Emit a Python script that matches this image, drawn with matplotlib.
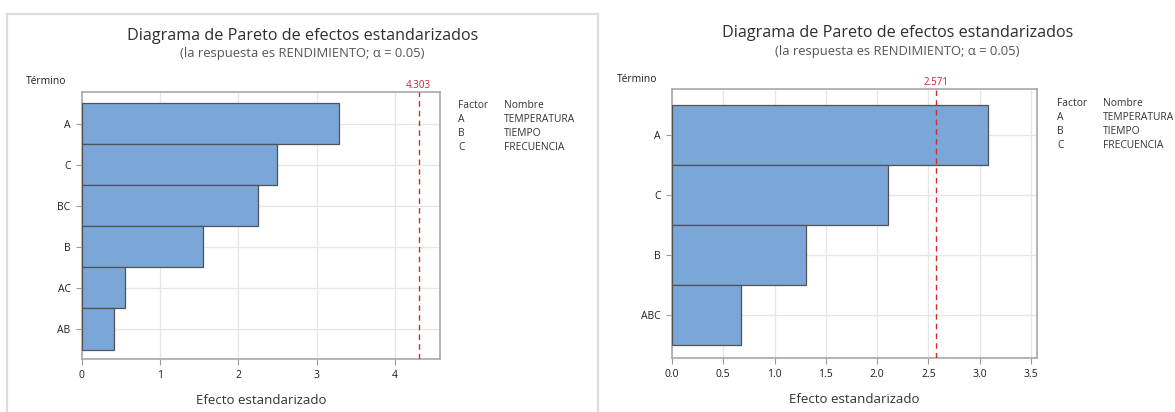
import matplotlib
matplotlib.use('Agg')
import matplotlib.pyplot as plt
from matplotlib.lines import Line2D
import numpy as np

# Datos
terminos_1 = ['A', 'C', 'BC', 'B', 'AC', 'AB']
efectos_1 = [3.28, 2.50, 2.25, 1.544, 0.547, 0.417]
critico_1 = 4.303

terminos_2 = ['A', 'C', 'B', 'ABC']
efectos_2 = [3.078, 2.11, 1.302, 0.668]
critico_2 = 2.571

factores = ['A', 'B', 'C']
nombres = ['TEMPERATURA', 'TIEMPO', 'FRECUENCIA']

plt.rcParams['font.family'] = ['Open Sans', 'DejaVu Sans']

W, H = 1175, 412
fig = plt.figure(figsize=(W / 100, H / 100), dpi=100)
fig.patch.set_facecolor('white')


def fx(px):
    return px / W


def fy(py):
    return 1 - py / H


def pareto(rect, terminos, efectos, critico, xmax, xticks, fmt):
    ax = fig.add_axes(rect)
    n = len(terminos)
    y = np.arange(n)
    ax.barh(y, efectos, height=1.0, color='#7BA6D8', edgecolor='#525252',
            linewidth=0.9, zorder=3)
    ax.axvline(critico, color='#D42A2A', linestyle=(0, (4, 3)), linewidth=1.0, zorder=4)
    ax.set_xlim(0, xmax)
    ax.set_ylim(n - 0.5 + 0.23, -0.5 - 0.27)
    ax.set_yticks(y)
    ax.set_yticklabels(terminos)
    ax.set_xticks(xticks)
    ax.set_xticklabels([fmt.format(v) for v in xticks])
    ax.grid(True, color='#E6E6E6', linewidth=0.9, zorder=0)
    ax.set_axisbelow(True)
    for s in ax.spines.values():
        s.set_color('#A8A8A8')
        s.set_linewidth(1.2)
    ax.tick_params(axis='both', direction='out', length=4, width=0.8,
                   color='#9A9A9A', labelsize=7.5, labelcolor='#1E1E1E', pad=4)
    ax.set_xlabel('Efecto estandarizado', fontsize=9.5, color='#333333', labelpad=9)
    ax.text(critico, 1.005, f'{critico:.3f}', transform=ax.get_xaxis_transform(),
            ha='center', va='bottom', fontsize=7, color='#C0282D')
    return ax


# Panel izquierdo
pareto([fx(81.7), fy(359), fx(440 - 81.7), (359 - 92) / H],
       terminos_1, efectos_1, critico_1, 4.576, [0, 1, 2, 3, 4], '{:.0f}')
# Panel derecho
pareto([fx(672), fy(358.3), fx(1037 - 672), (358.3 - 89.3) / H],
       terminos_2, efectos_2, critico_2, 3.558,
       [0.0, 0.5, 1.0, 1.5, 2.0, 2.5, 3.0, 3.5], '{:.1f}')

# Títulos y textos
for cx, ty, sy, tx, tty, lx, ly in [(302.5, 36, 54, 46.5, 82, 458, 105),
                                     (897.5, 33, 52, 637, 80, 1057, 103)]:
    fig.text(fx(cx), fy(ty), 'Diagrama de Pareto de efectos estandarizados',
             ha='center', va='center', fontsize=11.6, color='#2E2E2E')
    fig.text(fx(cx), fy(sy), '(la respuesta es RENDIMIENTO; α = 0.05)',
             ha='center', va='center', fontsize=9.4, color='#555555')
    fig.text(fx(tx), fy(tty), 'Término', ha='center', va='center',
             fontsize=7.4, color='#1E1E1E')
    fig.text(fx(lx), fy(ly), 'Factor', ha='left', va='center', fontsize=7.4, color='#333333')
    fig.text(fx(lx + 46), fy(ly), 'Nombre', ha='left', va='center', fontsize=7.4, color='#333333')
    for i, (f, nme) in enumerate(zip(factores, nombres)):
        yy = ly + 14.3 * (i + 1)
        fig.text(fx(lx), fy(yy), f, ha='left', va='center', fontsize=7.4, color='#333333')
        fig.text(fx(lx + 46), fy(yy), nme, ha='left', va='center', fontsize=7.4, color='#333333')

# Marco gris claro del panel izquierdo
borde = dict(color='#DCDCDC', linewidth=1.6, transform=fig.transFigure)
fig.add_artist(Line2D([fx(7), fx(598)], [fy(14), fy(14)], **borde))
fig.add_artist(Line2D([fx(7), fx(7)], [fy(14), 0], **borde))
fig.add_artist(Line2D([fx(598), fx(598)], [fy(14), 0], **borde))

fig.savefig('out.png', dpi=100, facecolor='white')
